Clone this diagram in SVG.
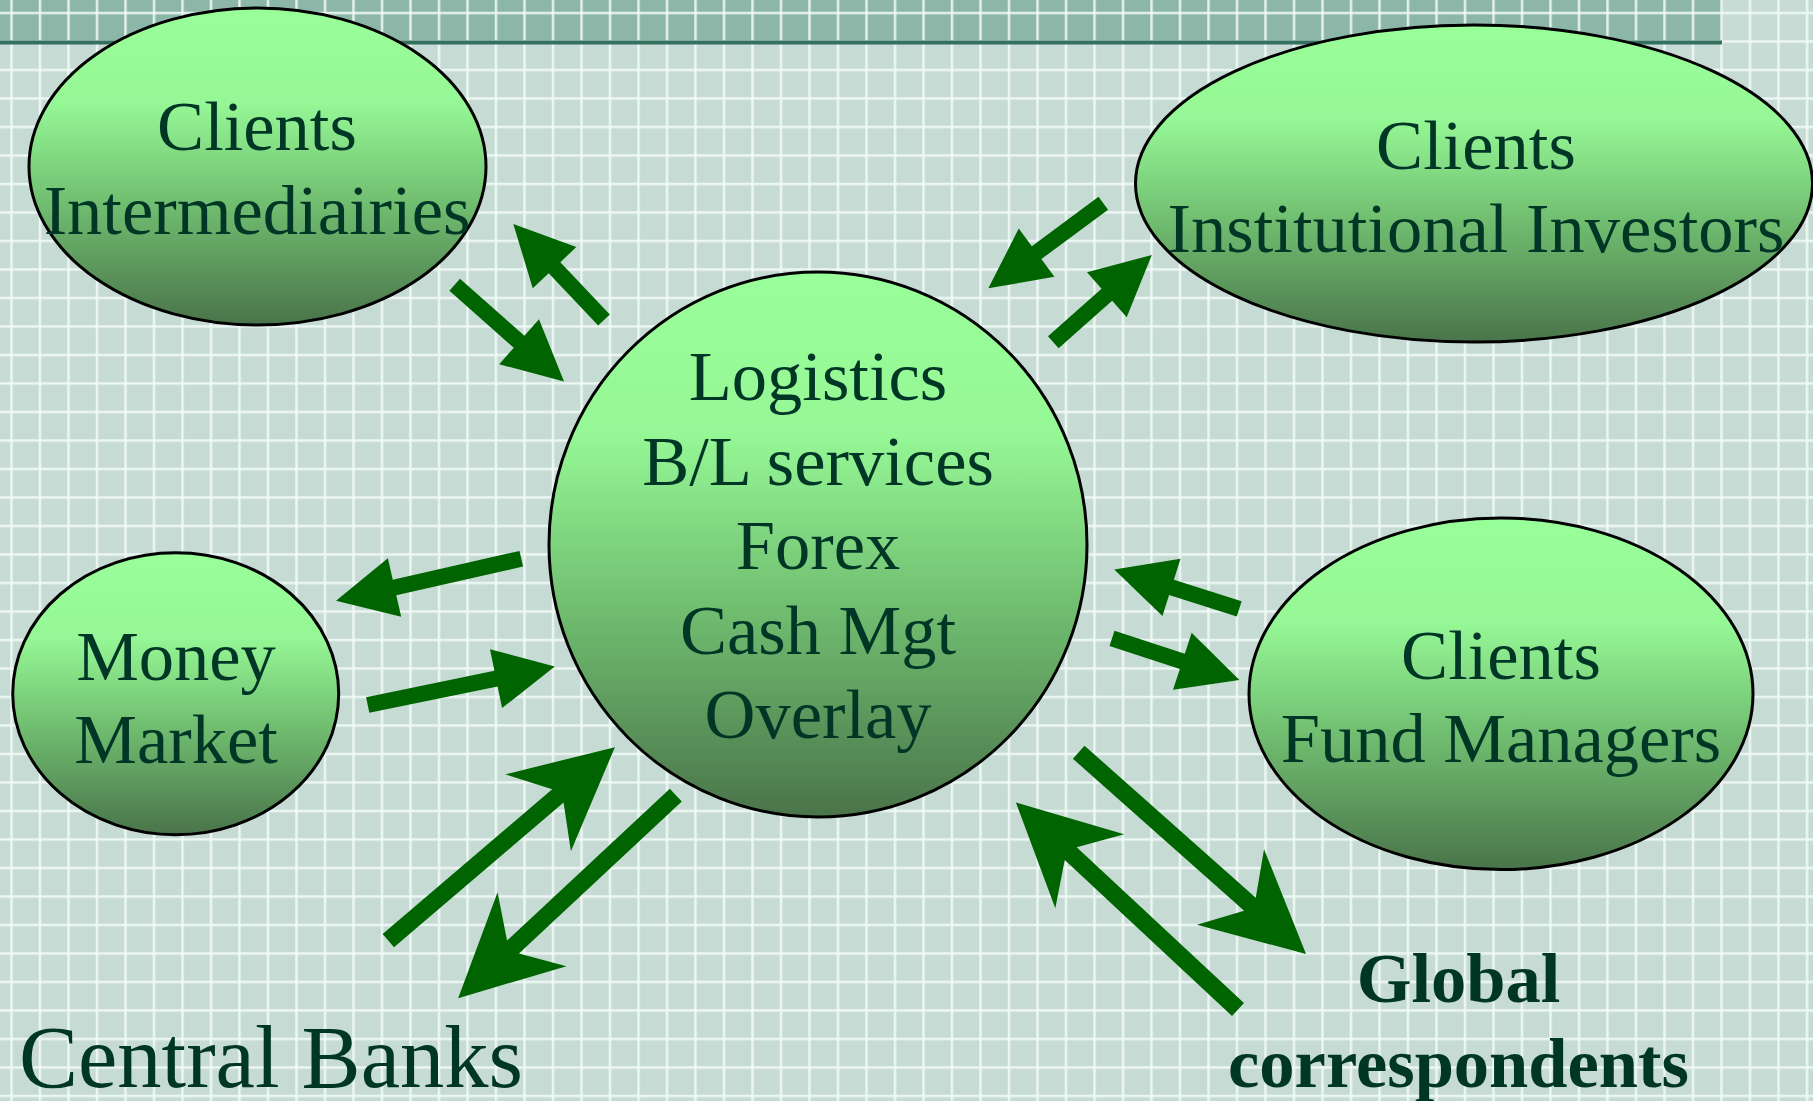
<svg xmlns="http://www.w3.org/2000/svg" width="1813" height="1101" viewBox="0 0 1813 1101">
<defs>
<pattern id="grid" patternUnits="userSpaceOnUse" x="10.25" y="11.75" width="28.5" height="28.5">
<rect x="0" y="0" width="2.5" height="28.5" fill="#f2faf7" opacity="0.85"/>
<rect x="0" y="0" width="28.5" height="2.5" fill="#f2faf7" opacity="0.85"/>
</pattern>
<linearGradient id="nodeFill" x1="0" y1="0" x2="0" y2="1">
<stop offset="0" stop-color="#99ff99"/>
<stop offset="0.3" stop-color="#95f795"/>
<stop offset="0.62" stop-color="#70bd70"/>
<stop offset="1" stop-color="#4a744a"/>
</linearGradient>
<style>
.node { fill: url(#nodeFill); stroke: #000; stroke-width: 3; }
.lbl { font-family: "Liberation Serif", "Times New Roman", serif; font-size: 70.5px; fill: #003626; text-anchor: middle; }
.big { font-family: "Liberation Serif", "Times New Roman", serif; font-size: 88.5px; fill: #003626; }
.bold { font-weight: bold; }
.arr { fill: #006400; }
</style>
</defs>
<rect x="0" y="0" width="1813" height="1101" fill="#c6dbd4"/>
<rect x="0" y="0" width="1722" height="42" fill="#8cb7a8"/>
<rect x="0" y="0" width="1813" height="1101" fill="url(#grid)"/>
<rect x="0" y="40.5" width="1722" height="4" fill="#33705f"/>

<g id="node-intermediairies">
<ellipse class="node" cx="257.5" cy="166.5" rx="228.5" ry="158.5"/>
<text class="lbl" x="257" y="150">Clients</text>
<text class="lbl" x="257" y="234">Intermediairies</text>
</g>
<g id="node-institutional">
<ellipse class="node" cx="1474" cy="183.5" rx="338.5" ry="158.5"/>
<text class="lbl" x="1476" y="169">Clients</text>
<text class="lbl" x="1476" y="252">Institutional Investors</text>
</g>
<g id="node-center">
<ellipse class="node" cx="818" cy="544.5" rx="269" ry="272.5"/>
<text class="lbl" x="818" y="400">Logistics</text>
<text class="lbl" x="818" y="484.5">B/L services</text>
<text class="lbl" x="818" y="569">Forex</text>
<text class="lbl" x="818" y="653.5">Cash Mgt</text>
<text class="lbl" x="818" y="738">Overlay</text>
</g>
<g id="node-money">
<ellipse class="node" cx="175.7" cy="693.7" rx="163" ry="141"/>
<text class="lbl" x="176" y="680">Money</text>
<text class="lbl" x="176" y="763">Market</text>
</g>
<g id="node-fund">
<ellipse class="node" cx="1501" cy="693.8" rx="252" ry="175.8"/>
<text class="lbl" x="1501" y="679">Clients</text>
<text class="lbl" x="1501" y="762">Fund Managers</text>
</g>
<g id="node-central-banks">
<text class="big" x="19" y="1087">Central Banks</text>
</g>
<g id="node-global">
<text class="lbl bold" x="1458.5" y="1001.5">Global</text>
<text class="lbl bold" x="1458.5" y="1087">correspondents</text>
</g>

<g id="connectors">
<path class="arr" transform="translate(604,320) rotate(-133.4)" d="M0,-8 L72,-8 L72,-30 L132,0 L72,30 L72,8 L0,8 Z"/>
<path class="arr" transform="translate(454.7,284.8) rotate(41.5)" d="M0,-8 L86,-8 L86,-30 L146,0 L86,30 L86,8 L0,8 Z"/>
<path class="arr" transform="translate(1103.3,203.3) rotate(143.5)" d="M0,-8 L83,-8 L83,-30 L143,0 L83,30 L83,8 L0,8 Z"/>
<path class="arr" transform="translate(1053.3,342.2) rotate(-41.5)" d="M0,-8 L71.5,-8 L71.5,-30 L131.5,0 L71.5,30 L71.5,8 L0,8 Z"/>
<path class="arr" transform="translate(521.3,558.7) rotate(167.2)" d="M0,-8 L130,-8 L130,-30 L190,0 L130,30 L130,8 L0,8 Z"/>
<path class="arr" transform="translate(367.7,705) rotate(-11.6)" d="M0,-8 L131,-8 L131,-30 L191,0 L131,30 L131,8 L0,8 Z"/>
<path class="arr" transform="translate(1239.2,608.8) rotate(-162.5)" d="M0,-8 L71,-8 L71,-30 L131,0 L71,30 L71,8 L0,8 Z"/>
<path class="arr" transform="translate(1112,638.3) rotate(18.1)" d="M0,-8 L74,-8 L74,-30 L134,0 L74,30 L74,8 L0,8 Z"/>
<path class="arr" transform="translate(388.3,940.7) rotate(-40.5)" d="M0,-8.75 L223,-8.75 L197,-50.5 L298,0 L197,50.5 L223,8.75 L0,8.75 Z"/>
<path class="arr" transform="translate(675.8,795.2) rotate(137)" d="M0,-8.75 L222.6,-8.75 L196.6,-50.5 L297.6,0 L196.6,50.5 L222.6,8.75 L0,8.75 Z"/>
<path class="arr" transform="translate(1078.7,752.2) rotate(41.6)" d="M0,-8.75 L229,-8.75 L203,-50.5 L304,0 L203,50.5 L229,8.75 L0,8.75 Z"/>
<path class="arr" transform="translate(1238,1009.5) rotate(-137)" d="M0,-8.75 L228.7,-8.75 L202.7,-50.5 L303.7,0 L202.7,50.5 L228.7,8.75 L0,8.75 Z"/>
</g>
</svg>
